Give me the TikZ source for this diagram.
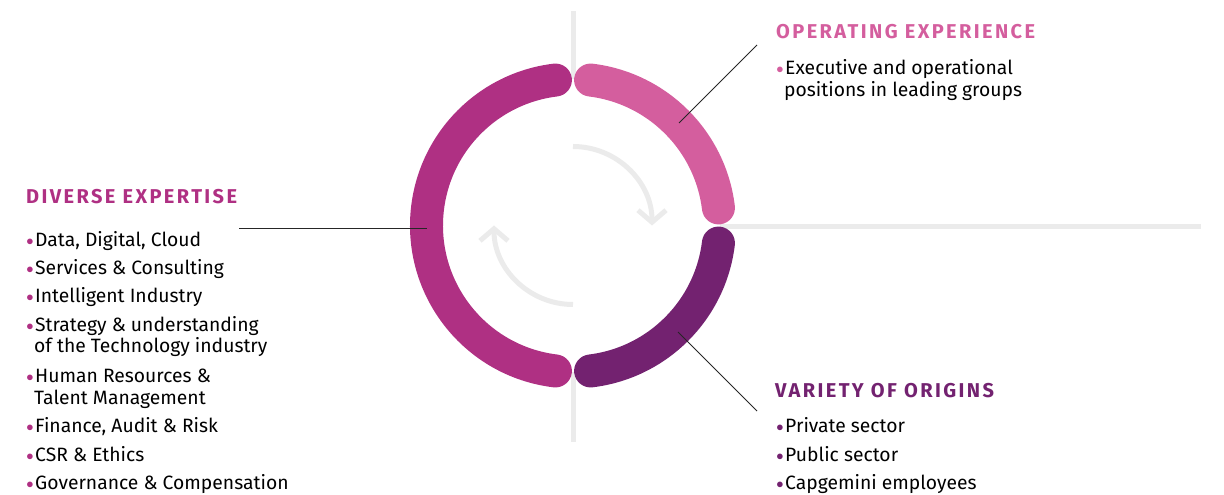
\documentclass[tikz,border=0pt]{standalone}
\usepackage{fontspec}
\setmainfont{Fira Sans}
\usepackage{xcolor}
\usepackage{graphicx}
\usepackage{tikz}
\usetikzlibrary{arrows.meta}
\definecolor{opPink}{HTML}{D45E9E}
\definecolor{divMagenta}{HTML}{AF3083}
\definecolor{varPurple}{HTML}{732270}
\definecolor{axisGray}{HTML}{EBEBEB}
\newcommand{\ringrad}{146.5}
\newcommand{\looprad}{79}
\newcommand{\dotitem}[2]{\llap{\textcolor{#1}{\raisebox{1.7pt}{\scalebox{0.7}{$\bullet$}}}\hspace{1.5pt}}#2}

\begin{document}
\begin{tikzpicture}[x=1pt, y=1pt,
  ring/.style={line width=33pt, line cap=round},
  axis/.style={line width=5pt, draw=axisGray},
  loop/.style={line width=5pt, draw=axisGray, -{Straight Barb[length=12pt, width=28pt]}},
  leader/.style={line width=0.8pt, draw=black!85},
  title/.style={anchor=base west, inner sep=0pt,
    font=\fontsize{20}{24}\selectfont\bfseries\addfontfeatures{LetterSpace=12}},
  item/.style={anchor=base west, inner sep=0pt,
    font=\fontsize{19.3}{23}\selectfont}]
\useasboundingbox (0,0) rectangle (1224,495);

\coordinate (centre) at (573,269.5);

% Axis lines
\draw[axis] (573,484) -- (573,416);
\draw[axis] (573,53) -- (573,123);
\draw[axis] (719.5,268.5) -- (1201,268.5);

% Ring
\draw[ring, opPink] (centre) ++(83.1:\ringrad)
  arc[start angle=83.1, end angle=6.9, radius=\ringrad];
\draw[ring, varPurple] (centre) ++(-6.9:\ringrad)
  arc[start angle=-6.9, end angle=-83.1, radius=\ringrad];
\draw[ring, divMagenta] (centre) ++(263.1:\ringrad)
  arc[start angle=263.1, end angle=96.9, radius=\ringrad];

% Inner loop arrows
\draw[loop] (centre) ++(90:\looprad)
  arc[start angle=90, end angle=0, radius=\looprad];
\draw[loop] (centre) ++(270:\looprad)
  arc[start angle=270, end angle=180, radius=\looprad];

% Operating experience
\node[title, text=opPink] (op-title) at (776,456) {OPERATING EXPERIENCE};
\node[item] (op-1) at (785,420) {\dotitem{opPink}{Executive and operational}};
\node[item] (op-2) at (784,398) {positions in leading groups};

% Diverse expertise
\node[title, text=divMagenta] (div-title) at (26,291) {DIVERSE EXPERTISE};
\foreach \n/\yy/\txt in {1/248/{Data, Digital, Cloud},
                         2/220/{Services \& Consulting},
                         3/192/{Intelligent Industry},
                         4/163/{Strategy \& understanding},
                         5/112/{Human Resources \&},
                         6/62/{Finance, Audit \& Risk},
                         7/33/{CSR \& Ethics},
                         8/5/{Governance \& Compensation}}
{
  \node[item] (div-\n) at (35,\yy) {\dotitem{divMagenta}{\txt}};
}
\node[item] (div-4b) at (34,142) {of the Technology industry};
\node[item] (div-5b) at (34,90) {Talent Management};

% Variety of origins
\node[title, text=varPurple] (var-title) at (775,97) {VARIETY OF ORIGINS};
\foreach \n/\yy/\txt in {1/62/{Private sector},
                         2/33/{Public sector},
                         3/5/{Capgemini employees}}
{
  \node[item] (var-\n) at (785,\yy) {\dotitem{varPurple}{\txt}};
}

% Leader lines
\coordinate (op-end) at (757,450);
\coordinate (op-ring) at (679,372);
\coordinate (div-end) at (239,267);
\coordinate (div-ring) at (427,267);
\coordinate (var-ring) at (678,163);
\coordinate (var-end) at (757,84);
\draw[leader] (op-end) -- (op-ring);
\draw[leader] (div-end) -- (div-ring);
\draw[leader] (var-ring) -- (var-end);

\end{tikzpicture}
\end{document}
